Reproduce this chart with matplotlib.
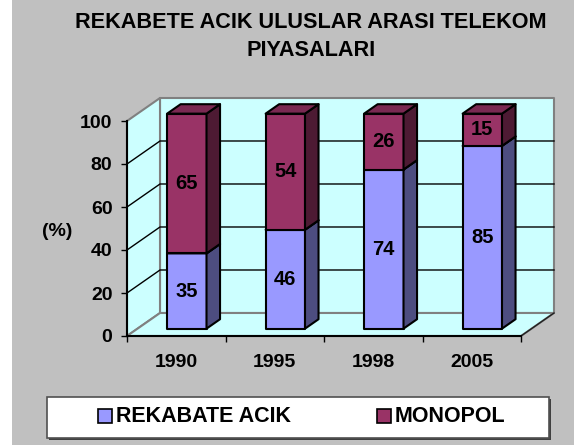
import matplotlib
matplotlib.use("Agg")
import matplotlib.pyplot as plt
from matplotlib.patches import Polygon, Rectangle

plt.rcParams['font.family'] = ['Liberation Sans', 'DejaVu Sans']
plt.rcParams['font.weight'] = 'bold'

# veriler
years = ["1990", "1995", "1998", "2005"]
rekabete = [35, 46, 74, 85]
monopol = [65, 54, 26, 15]
series_names = ["REKABATE ACIK", "MONOPOL"]
yticks = [0, 20, 40, 60, 80, 100]

# renkler
bg = "#C0C0C0"
wall = "#CCFFFF"
blue_front, blue_side, blue_top = "#9999FF", "#4D4D80", "#7A7ACC"
red_front, red_side, red_top = "#993366", "#4D1A33", "#7A2952"

W, H = 574, 447
fig = plt.figure(figsize=(W / 100, H / 100), dpi=100)
fig.patch.set_facecolor("white")

# arka plan ve lejant icin piksel koordinatli eksen
bgax = fig.add_axes([0, 0, 1, 1], zorder=0)
bgax.set_xlim(0, W)
bgax.set_ylim(H, 0)
bgax.axis("off")
bgax.add_patch(Rectangle((12, 0), W - 12, 445, facecolor=bg, edgecolor="none"))

# grafik ekseni (on duzlem)
ax = fig.add_axes([127 / W, (H - 336) / H, 394 / W, 215 / H], zorder=1)
ax.patch.set_visible(False)
ax.set_xlim(-0.5, len(years) - 0.5)
ax.set_ylim(0, 100)

# 3B derinlik kaymasi
DX = 33 / 98.5
DY = 10.7


def proj(x, y, d):
    return (x + d * DX, y + d * DY)


def poly(pts, fc, ec, lw=1.0, z=1):
    ax.add_patch(Polygon(pts, closed=True, facecolor=fc, edgecolor=ec,
                         linewidth=lw, clip_on=False, zorder=z, joinstyle="round"))


x0, x1 = -0.5, len(years) - 0.5
# duvarlar ve taban
poly([proj(x0, 0, 1), proj(x1, 0, 1), proj(x1, 100, 1), proj(x0, 100, 1)], wall, "#808080", 1.5)
poly([proj(x0, 0, 0), proj(x0, 0, 1), proj(x0, 100, 1), proj(x0, 100, 0)], wall, "#808080", 1.5)
poly([proj(x0, 0, 0), proj(x1, 0, 0), proj(x1, 0, 1), proj(x0, 0, 1)], wall, "#808080", 1.5)
fx, fy = zip(proj(x1, 0, 0), proj(x1, 0, 1))
ax.plot(fx, fy, color="#202020", lw=1, clip_on=False, zorder=1.2)

# izgara cizgileri
for v in yticks[1:-1]:
    pts = [proj(x0, v, 0), proj(x0, v, 1), proj(x1, v, 1)]
    ax.plot([p[0] for p in pts], [p[1] for p in pts], color="black", lw=1,
            clip_on=False, zorder=1.5)

# cubuklar
bw = 0.4
d1, d2 = 0.32, 0.73


def bar3d(xc, y0, y1, front, side, top, label):
    a, b = xc - bw / 2, xc + bw / 2
    poly([proj(a, y0, d1), proj(b, y0, d1), proj(b, y1, d1), proj(a, y1, d1)], front, "black", 1.5, 3)
    poly([proj(b, y0, d1), proj(b, y0, d2), proj(b, y1, d2), proj(b, y1, d1)], side, "black", 1.5, 3)
    poly([proj(a, y1, d1), proj(b, y1, d1), proj(b, y1, d2), proj(a, y1, d2)], top, "black", 1.5, 3)
    cx, cy = proj(xc, (y0 + y1) / 2, d1)
    ax.text(cx, cy, str(label), ha="center", va="center", fontsize=14.5,
            fontweight="bold", zorder=4)


for i in range(len(years)):
    bar3d(i, 0, rekabete[i], blue_front, blue_side, blue_top, rekabete[i])
    bar3d(i, rekabete[i], rekabete[i] + monopol[i], red_front, red_side, red_top, monopol[i])

# eksenler
for s in ["top", "right"]:
    ax.spines[s].set_visible(False)
ax.spines["left"].set_linewidth(1.5)
ax.spines["bottom"].set_linewidth(1.5)
ax.set_yticks(yticks)
ax.tick_params(axis="y", direction="out", length=4.5, width=1, pad=6, labelsize=14)
ax.set_xticks([k - 0.5 for k in range(len(years) + 1)])
ax.set_xticklabels([])
ax.set_xticks(range(len(years)), minor=True)
ax.set_xticklabels(years, minor=True, fontsize=14, fontweight="bold")
ax.tick_params(axis="x", which="major", direction="out", length=4.5, width=1)
ax.tick_params(axis="x", which="minor", length=0, pad=13)
for t in ax.get_yticklabels():
    t.set_fontweight("bold")
bgax.text(57, 231, "(%)", ha="center", va="center", fontsize=14, fontweight="bold")

# baslik
fig.text(311 / W, 1 - 22 / H, "REKABETE ACIK ULUSLAR ARASI TELEKOM", ha="center",
         va="center", fontsize=15.6, fontweight="bold")
fig.text(311 / W, 1 - 50 / H, "PIYASALARI", ha="center", va="center",
         fontsize=15.6, fontweight="bold")

# lejant
bgax.add_patch(Rectangle((49, 399), 502, 41, facecolor="#404040", edgecolor="none"))
bgax.add_patch(Rectangle((47, 397), 502, 41, facecolor="white", edgecolor="#505050", lw=1.2))
for px, name, col in [(98, series_names[0], blue_front), (377, series_names[1], red_front)]:
    bgax.add_patch(Rectangle((px, 409), 14, 14, facecolor=col, edgecolor="black", lw=1.2))
    bgax.text(px + 18, 416.5, name, ha="left", va="center", fontsize=15.5, fontweight="bold")

fig.savefig("out.png", dpi=100, facecolor=fig.get_facecolor())
